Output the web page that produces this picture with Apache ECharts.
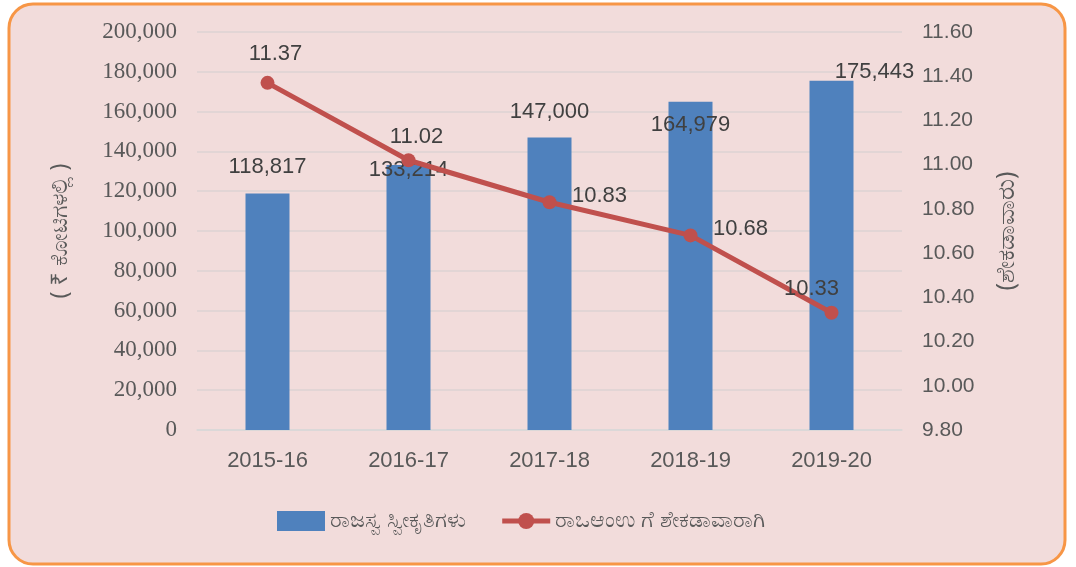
<!DOCTYPE html>
<html>
<head>
<meta charset="utf-8">
<script src="https://cdn.jsdelivr.net/npm/echarts@6/dist/echarts.min.js"></script>
<style>
html,body{margin:0;padding:0;background:#ffffff;}
#chart{width:1076px;height:567px;}
</style>
</head>
<body>
<div id="chart"></div>
<script>
const categories = ['2015-16', '2016-17', '2017-18', '2018-19', '2019-20'];
const revenueReceipts = [118817, 133214, 147000, 164979, 175443];
const percentOfGSDP = [11.37, 11.02, 10.83, 10.68, 10.33];
const barName = 'ರಾಜಸ್ವ ಸ್ವೀಕೃತಿಗಳು';
const lineName = 'ರಾಒಆಂಉ ಗೆ ಶೇಕಡಾವಾರಾಗಿ';
const leftTitle = '( ₹ ಕೋಟಿಗಳಲ್ಲಿ )';
const rightTitle = '(ಶೇಕಡಾವಾರು)';

// label placement (style only)
const barLabelOffsets = [[0, -16], [0, 16], [0, -15], [0, 34], [43, 2]];
const lineLabelOffsets = [[8, -11], [8, -5], [50, 12], [50, 12], [-20, -6]];

const fmtThousands = v => v.toLocaleString('en-US');

const chart = echarts.init(document.getElementById('chart'));
chart.setOption({
  backgroundColor: '#ffffff',
  animation: false,
  graphic: [{
    type: 'rect', z: -10, silent: true,
    shape: {x: 9, y: 4, width: 1056, height: 560, r: 24},
    style: {fill: '#F2DCDB', stroke: '#F79646', lineWidth: 3}
  }],
  grid: {left: 197, right: 174, top: 32, bottom: 137},
  legend: {
    bottom: 30, left: 272,
    itemGap: 34, itemWidth: 48, itemHeight: 20,
    textStyle: {fontSize: 22, color: '#595959', fontFamily: 'Noto Sans, sans-serif'},
    data: [
      {name: barName, icon: 'rect'},
      {name: lineName, lineStyle: {width: 5}}
    ]
  },
  xAxis: {
    type: 'category',
    data: categories,
    axisTick: {show: false},
    axisLine: {lineStyle: {color: '#D9D9D9', width: 1.5}},
    axisLabel: {fontSize: 22, color: '#595959', margin: 20, fontFamily: 'Liberation Sans, Arial, sans-serif'}
  },
  yAxis: [{
    type: 'value', min: 0, max: 200000, interval: 20000,
    name: leftTitle, nameLocation: 'middle', nameGap: 125, nameRotate: 90,
    nameTextStyle: {fontSize: 23, color: '#595959', fontFamily: 'Noto Sans, sans-serif'},
    axisLabel: {fontSize: 23, color: '#595959', margin: 20, fontFamily: 'Liberation Serif, Times New Roman, serif',
      formatter: v => fmtThousands(v)},
    axisLine: {show: false}, axisTick: {show: false},
    splitLine: {lineStyle: {color: '#DCD3D3', width: 1.5}}
  }, {
    type: 'value', min: 9.8, max: 11.6, interval: 0.2,
    name: rightTitle, nameLocation: 'middle', nameGap: 92, nameRotate: 90,
    nameTextStyle: {fontSize: 25, color: '#595959', fontFamily: 'Noto Sans, sans-serif'},
    axisLabel: {fontSize: 21, color: '#595959', margin: 20, fontFamily: 'Liberation Sans, Arial, sans-serif',
      formatter: v => v.toFixed(2)},
    axisLine: {show: false}, axisTick: {show: false},
    splitLine: {show: false}
  }],
  series: [{
    name: barName, type: 'bar', yAxisIndex: 0,
    barWidth: 44,
    itemStyle: {color: '#4F81BD'},
    data: revenueReceipts.map((v, i) => ({
      value: v,
      label: {offset: barLabelOffsets[i]}
    })),
    label: {
      show: true, position: 'top', distance: 0,
      fontSize: 22, color: '#404040', fontFamily: 'Liberation Sans, Arial, sans-serif',
      formatter: p => fmtThousands(p.value)
    },
    z: 2
  }, {
    name: lineName, type: 'line', yAxisIndex: 1,
    symbol: 'circle', symbolSize: 14,
    lineStyle: {color: '#C0504D', width: 5},
    itemStyle: {color: '#C0504D'},
    data: percentOfGSDP.map((v, i) => ({
      value: v,
      label: {offset: lineLabelOffsets[i]}
    })),
    label: {
      show: true, position: 'top', distance: 0,
      fontSize: 22, color: '#404040', fontFamily: 'Liberation Sans, Arial, sans-serif',
      formatter: p => p.value.toFixed(2)
    },
    z: 3
  }]
});
</script>
</body>
</html>
